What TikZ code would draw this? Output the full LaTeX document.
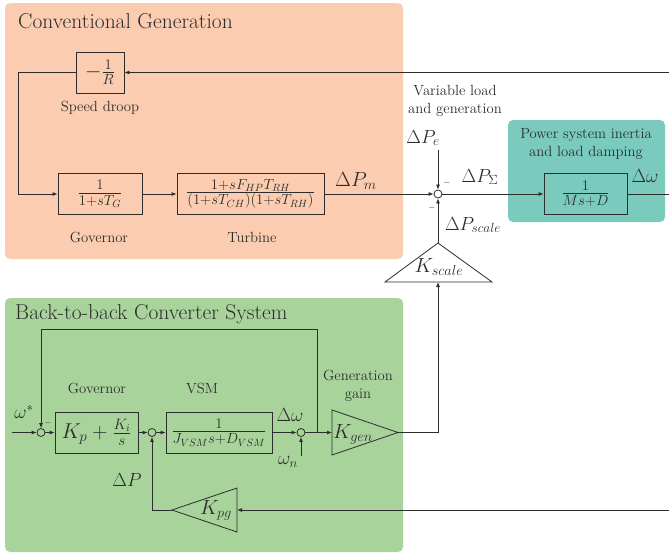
\documentclass[tikz,border=0pt]{standalone}
\usepackage{fix-cm}
\usetikzlibrary{arrows.meta}
\definecolor{convbg}{RGB}{251,204,175}
\definecolor{greenbg}{RGB}{168,212,156}
\definecolor{tealbg}{RGB}{122,203,190}
\definecolor{lc}{RGB}{45,45,45}
\tikzset{
  blk/.style={draw=lc, line width=0.8pt, minimum height=41pt, inner sep=0pt,
    font=\fontsize{21}{24}\selectfont, text=lc},
  lbl/.style={font=\fontsize{14.7}{17.5}\selectfont, align=center, text=lc, inner sep=0pt},
  ttl/.style={anchor=base west, font=\fontsize{21.5}{24}\selectfont, text=lc, inner sep=0pt},
  ml/.style={font=\fontsize{19}{21}\selectfont, text=lc, inner sep=0pt},
  kl/.style={font=\fontsize{20.5}{22}\selectfont, text=lc, inner sep=0pt},
  sumc/.style={circle, draw=lc, line width=0.8pt, minimum size=8pt, inner sep=0pt},
  arr/.style={-{Latex[length=5pt,width=4pt]}},
  ln/.style={draw=lc, line width=0.8pt},
  mn/.style={font=\fontsize{9}{9}\selectfont, text=lc, inner sep=0pt},
}
\begin{document}
\begin{tikzpicture}[x=1pt,y=-1pt]
\useasboundingbox (0,0) rectangle (669,554);
% backgrounds
\fill[convbg, rounded corners=5pt] (5,3) rectangle (403,259);
\fill[greenbg, rounded corners=5pt] (5,298) rectangle (403,552);
\fill[tealbg, rounded corners=5pt] (508,120) rectangle (665,222);
\node[ttl] (t1) at (18,28) {Conventional Generation};
\node[ttl] (t2) at (15,319) {Back-to-back Converter System};

% conventional generation
\node[blk, minimum width=48pt] (droop) at (100,72.5) {$-\frac{1}{R}$};
\node[lbl] (ldroop) at (100,108) {Speed droop};
\node[blk, minimum width=84pt] (gov1) at (100,194) {$\frac{1}{1+sT_G}$};
\node[blk, minimum width=147pt] (turb) at (250.5,194) {$\frac{1+sF_{HP}T_{RH}}{(1+sT_{CH})(1+sT_{RH})}$};
\node[lbl] (lgov1) at (99,237) {Governor};
\node[lbl] (lturb) at (252,237) {Turbine};
\node[ml, font=\fontsize{20.5}{22}\selectfont] (dpm) at (356,181) {$\Delta P_m$};

\node[sumc] (s0) at (438,194) {};
\coordinate (rt1) at (669,72.5);
\coordinate (fbL) at (18.3,72.5);
\draw[ln,arr] (rt1) -- (droop.east);
\draw[ln,arr] (droop.west) -- (fbL) |- (gov1.west);
\draw[ln,arr] (gov1) -- (turb);
\draw[ln,arr] (turb) -- (s0);

\node[lbl] (lvar) at (455,101) {Variable load\\and generation};
\node[ml] (dpe) at (423,138) {$\Delta P_e$};
\coordinate (pe) at (438,150);
\draw[ln,arr] (pe) -- (s0);
\node[mn] (m1) at (447,183) {$-$};
\node[mn] (m2) at (432,208) {$-$};
\node[ml] (dps) at (480,177) {$\Delta P_\Sigma$};

\node[lbl] (lpsi) at (586,144) {Power system inertia\\and load damping};
\node[blk, minimum width=83pt] (msd) at (585.5,194) {$\frac{1}{Ms+D}$};
\draw[ln,arr] (s0) -- (msd);
\coordinate (rt2) at (669,194);
\draw[ln] (msd) -- (rt2);
\node[ml] (dw1) at (645,176) {$\Delta\omega$};

% K_scale
\coordinate (ksA) at (438,243);
\coordinate (ksL) at (385,282);
\coordinate (ksR) at (492,282);
\coordinate (ksB) at (438,282);
\draw[ln, line join=miter] (ksA) -- (ksL) -- (ksR) -- cycle;
\node[kl] (ks) at (439,267) {$K_{scale}$};
\draw[ln,arr] (ksA) -- (s0);
\node[ml] (dpsc) at (473,225) {$\Delta P_{scale}$};

% converter system
\node[sumc] (s1) at (41,432.5) {};
\coordinate (win) at (12,432.5);
\node[ml] (wstar) at (24,412) {$\omega^*$};
\node[mn] (m3) at (48,423) {$-$};
\node[blk, minimum width=83pt, font=\fontsize{21.5}{24}\selectfont] (gov2) at (96.5,432.5) {$K_p+\frac{K_i}{s}$};
\node[lbl] (lgov2) at (97,388) {Governor};
\node[sumc] (s2) at (152,432.5) {};
\node[blk, minimum width=106pt] (vsm) at (219,432.5) {$\frac{1}{J_{VSM}s+D_{VSM}}$};
\node[lbl] (lvsm) at (202,388) {VSM};
\node[sumc] (s3) at (301,432.5) {};
\node[ml] (dw2) at (290,415) {$\Delta\omega$};
\node[ml] (wn) at (288,462) {$\omega_n$};
\coordinate (wnb) at (301,456);
\coordinate (jn) at (317,432.5);
\coordinate (fbT) at (317,329);

% K_gen
\coordinate (kgT) at (332,410);
\coordinate (kgB) at (332,455);
\coordinate (kgA) at (398,432.5);
\coordinate (kgW) at (332,432.5);
\draw[ln, line join=miter] (kgT) -- (kgA) -- (kgB) -- cycle;
\node[kl, anchor=base west] (kg) at (333,438) {$K_{gen}$};
\node[lbl] (lgg) at (358,386) {Generation\\gain};

% K_pg
\coordinate (kpA) at (172,510);
\coordinate (kpT) at (237,488);
\coordinate (kpB) at (237,532);
\coordinate (kpE) at (237,510);
\draw[ln, line join=miter] (kpA) -- (kpT) -- (kpB) -- cycle;
\node[kl, anchor=base] (kp) at (216,514) {$K_{pg}$};
\node[ml] (dp) at (127,480) {$\Delta P$};
\coordinate (rt3) at (669,510);

\draw[ln,arr] (win) -- (s1);
\draw[ln,arr] (s1) -- (gov2);
\draw[ln,arr] (gov2) -- (s2);
\draw[ln,arr] (s2) -- (vsm);
\draw[ln,arr] (vsm) -- (s3);
\draw[ln] (s3) -- (jn);
\draw[ln,arr] (jn) -- (kgW);
\draw[ln,arr] (jn) -- (fbT) -| (s1.north);
\draw[ln,arr] (wnb) -- (s3.south);
\draw[ln,arr] (kgA) -| (ksB);
\draw[ln,arr] (rt3) -- (kpE);
\draw[ln,arr] (kpA) -| (s2.south);
\end{tikzpicture}
\end{document}
